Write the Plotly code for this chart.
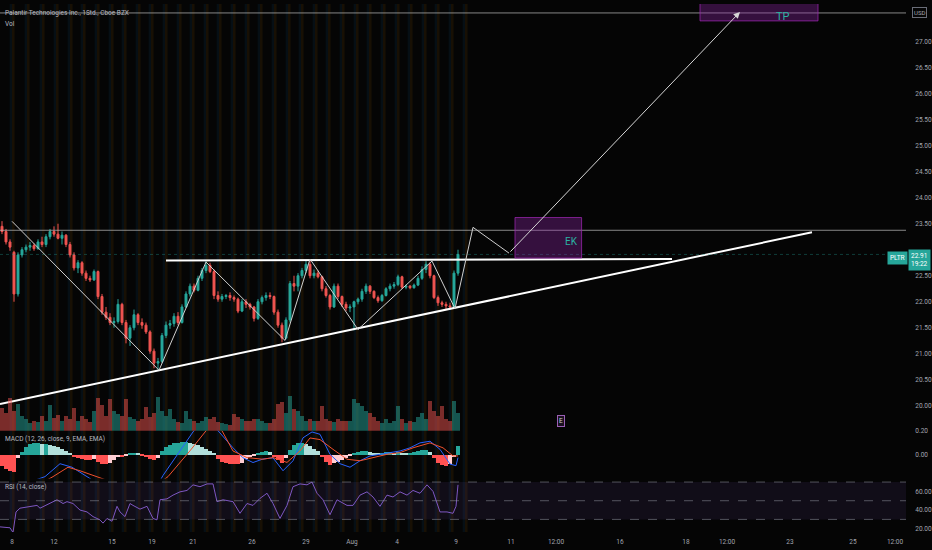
import plotly.graph_objects as go

# ---------------- data ----------------
opens = [23.45, 23.35, 23.15, 22.95, 22.15, 22.90, 23.00, 23.05, 23.08, 23.02,
         23.15, 23.10, 23.25, 23.35, 23.30, 23.22, 23.28, 23.10, 22.90, 22.65,
         22.75, 22.55, 22.45, 22.42, 22.58, 22.10, 21.80, 21.70, 21.60, 21.62,
         21.95, 21.60, 21.30, 21.50, 21.75, 21.60, 21.55, 21.42, 21.05, 20.82,
         20.85, 21.35, 21.55, 21.58, 21.72, 21.60, 21.90, 22.15, 22.30, 22.22,
         22.45, 22.60, 22.70, 22.58, 22.12, 22.05, 22.10, 22.12, 22.08, 22.05,
         21.82, 22.00, 21.95, 21.90, 21.68, 22.00, 22.08, 22.12, 22.10, 21.80,
         21.55, 21.30, 21.65, 22.35, 22.30, 22.50, 22.60, 22.72, 22.50, 22.55,
         22.48, 22.25, 22.12, 21.90, 22.30, 22.10, 21.95, 21.88, 21.90, 22.00,
         22.05, 22.20, 22.30, 22.20, 22.08, 22.02, 22.12, 22.25, 22.30, 22.33,
         22.48, 22.28, 22.30, 22.27, 22.32, 22.45, 22.62, 22.72, 22.50, 22.08,
         21.98, 21.95, 21.92, 21.90, 22.55]
highs = [23.55, 23.40, 23.20, 22.98, 22.95, 23.05, 23.10, 23.15, 23.12, 23.20,
         23.25, 23.30, 23.40, 23.45, 23.50, 23.35, 23.30, 23.15, 22.95, 22.80,
         22.78, 22.60, 22.50, 22.62, 22.60, 22.15, 21.90, 21.78, 21.70, 22.05,
         21.98, 21.65, 21.55, 21.85, 21.78, 21.68, 21.60, 21.45, 21.10, 20.92,
         21.40, 21.62, 21.65, 21.78, 21.80, 21.95, 22.20, 22.35, 22.35, 22.50,
         22.65, 22.78, 22.75, 22.62, 22.20, 22.15, 22.15, 22.18, 22.12, 22.08,
         22.05, 22.05, 21.98, 21.92, 22.05, 22.12, 22.18, 22.18, 22.12, 21.85,
         21.60, 21.70, 22.40, 22.50, 22.55, 22.65, 22.80, 22.80, 22.62, 22.60,
         22.50, 22.30, 22.15, 22.35, 22.35, 22.12, 22.00, 21.95, 22.02, 22.08,
         22.25, 22.35, 22.32, 22.22, 22.12, 22.15, 22.28, 22.35, 22.38, 22.52,
         22.50, 22.33, 22.32, 22.35, 22.50, 22.68, 22.78, 22.76, 22.52, 22.12,
         22.02, 22.00, 21.98, 22.60, 23.00]
lows = [23.30, 23.10, 22.98, 22.00, 22.10, 22.85, 22.95, 22.98, 22.98, 23.00,
        23.05, 23.05, 23.20, 23.25, 23.20, 23.10, 23.05, 22.85, 22.60, 22.55,
        22.50, 22.40, 22.38, 22.40, 22.05, 21.75, 21.65, 21.55, 21.50, 21.58,
        21.55, 21.20, 21.15, 21.45, 21.55, 21.48, 21.38, 21.00, 20.72, 20.70,
        20.82, 21.30, 21.48, 21.52, 21.55, 21.58, 21.88, 22.10, 22.18, 22.20,
        22.40, 22.55, 22.55, 22.05, 22.00, 22.00, 22.05, 22.02, 22.00, 21.78,
        21.80, 21.88, 21.85, 21.62, 21.65, 21.95, 22.02, 22.05, 21.75, 21.50,
        21.22, 21.28, 21.60, 22.20, 22.20, 22.45, 22.55, 22.45, 22.45, 22.45,
        22.20, 22.08, 21.85, 21.88, 22.05, 21.90, 21.82, 21.80, 21.45, 21.95,
        22.00, 22.15, 22.15, 22.05, 21.98, 22.00, 22.10, 22.20, 22.25, 22.30,
        22.25, 22.24, 22.24, 22.25, 22.30, 22.42, 22.55, 22.45, 22.05, 21.92,
        21.90, 21.86, 21.85, 21.88, 22.50]
closes = [23.35, 23.15, 23.05, 22.15, 22.90, 23.00, 23.05, 23.08, 23.02, 23.15,
          23.10, 23.25, 23.35, 23.30, 23.22, 23.28, 23.10, 22.90, 22.65, 22.75,
          22.55, 22.45, 22.42, 22.58, 22.10, 21.80, 21.70, 21.60, 21.62, 21.95,
          21.60, 21.30, 21.50, 21.75, 21.60, 21.55, 21.42, 21.05, 20.82, 20.85,
          21.35, 21.55, 21.58, 21.72, 21.60, 21.90, 22.15, 22.30, 22.22, 22.45,
          22.60, 22.70, 22.58, 22.12, 22.05, 22.10, 22.12, 22.08, 22.05, 21.82,
          22.00, 21.95, 21.90, 21.68, 22.00, 22.08, 22.12, 22.10, 21.80, 21.55,
          21.30, 21.65, 22.35, 22.30, 22.50, 22.60, 22.72, 22.50, 22.55, 22.48,
          22.25, 22.12, 21.90, 22.30, 22.10, 21.95, 21.88, 21.90, 22.00, 22.05,
          22.20, 22.30, 22.20, 22.08, 22.02, 22.12, 22.25, 22.30, 22.33, 22.48,
          22.28, 22.30, 22.27, 22.32, 22.45, 22.62, 22.72, 22.50, 22.08, 21.98,
          21.95, 21.92, 21.90, 22.55, 22.91]
volumes_m = [2.3, 1.8, 3.3, 2.0, 2.7, 1.5, 1.2, 0.8, 1.0, 0.9,
             1.5, 1.0, 2.6, 1.3, 1.6, 1.0, 1.5, 1.2, 2.3, 1.0,
             1.5, 1.2, 0.9, 2.0, 3.3, 2.6, 1.5, 3.2, 2.0, 1.7,
             1.5, 3.2, 1.4, 1.2, 1.0, 1.2, 2.4, 1.4, 1.8, 3.4,
             2.0, 1.5, 2.2, 1.2, 0.9, 0.8, 2.0, 1.2, 1.0, 0.8,
             1.0, 1.4, 1.2, 1.4, 0.9, 0.8, 0.7, 0.6, 1.7, 1.4,
             1.2, 1.0, 1.0, 1.2, 1.2, 1.0, 0.8, 0.8, 1.2, 2.7,
             2.9, 1.8, 3.5, 2.2, 2.0, 1.5, 1.0, 1.2, 1.0, 1.0,
             2.5, 1.2, 1.0, 0.9, 1.2, 1.0, 1.0, 1.0, 3.2, 2.8,
             2.5, 2.0, 1.8, 1.4, 1.0, 0.8, 1.2, 0.8, 1.0, 2.5,
             1.2, 0.8, 1.0, 0.9, 1.4, 1.8, 1.2, 3.0, 2.0, 1.5,
             2.5, 1.2, 1.0, 3.0, 1.8]
macd_hist = [-0.10, -0.12, -0.14, -0.15, -0.03, 0.02, 0.06, 0.09, 0.10, 0.10,
             0.09, 0.09, 0.08, 0.07, 0.06, 0.05, 0.03, 0.01, -0.02, -0.03,
             -0.04, -0.05, -0.05, -0.04, -0.06, -0.08, -0.08, -0.07, -0.05, -0.02,
             -0.02, -0.01, 0.005, 0.01, 0.005, -0.01, -0.02, -0.04, -0.05, -0.03,
             0.03, 0.06, 0.08, 0.10, 0.10, 0.11, 0.11, 0.10, 0.09, 0.08,
             0.06, 0.05, 0.03, 0.01, -0.04, -0.06, -0.07, -0.08, -0.08, -0.08,
             -0.07, -0.04, -0.02, -0.01, 0.01, 0.02, 0.03, 0.02, -0.02, -0.05,
             -0.07, -0.03, 0.04, 0.08, 0.10, 0.10, 0.09, 0.07, 0.05, 0.03,
             -0.02, -0.06, -0.09, -0.07, -0.06, -0.05, -0.03, -0.01, 0.01, 0.02,
             0.03, 0.03, 0.02, 0.01, 0.005, 0.01, 0.02, 0.02, 0.01, 0.02,
             0.01, 0.005, 0.01, 0.02, 0.03, 0.04, 0.04, 0.02, -0.03, -0.07,
             -0.09, -0.10, -0.08, -0.02, 0.07]
macd_x = [-0.5, 4.5, 8.25, 10.75, 14.5, 17.5, 21.25, 24.5, 29.5, 34.5, 38.25, 40.25,
          44, 47.75, 49.5, 52, 53.75, 57.75, 60.25, 62.75, 65.25, 67.75, 70.25, 72.75,
          75.25, 77.5, 79.5, 82, 84.5, 87, 89.5, 92, 94.5, 97, 99.5, 102, 104.5, 107,
          109.5, 112, 113.5, 114]
macd_line = [-0.30, -0.28, -0.22, -0.19, -0.08, -0.11, -0.19, -0.26, -0.32, -0.30, -0.30, -0.18,
             0.0, 0.19, 0.26, 0.28, 0.21, 0.055, -0.03, -0.07, -0.04, -0.03, -0.14, -0.055,
             0.14, 0.19, 0.17, 0.0, -0.08, -0.11, -0.055, -0.014, 0.0, 0.014, 0.028, 0.055, 0.097, 0.111,
             0.042, -0.083, -0.097, -0.028]
signal_x = [-0.5, 7, 12.75, 16.5, 19.5, 23.75, 29.5, 37, 41.5, 47, 51.25, 53.25, 55, 57.75,
            61.25, 65.25, 67.75, 71.25, 74.5, 77, 79.5, 82.75, 86.25, 89.5, 92.75, 96.25,
            99.5, 102.75, 107, 110.25, 112.75, 114]
signal_line = [-0.33, -0.30, -0.19, -0.11, -0.14, -0.19, -0.26, -0.30, -0.19, 0.03, 0.21, 0.25, 0.20, 0.028,
               -0.028, -0.042, -0.028, -0.069, 0.028, 0.139, 0.125, 0.042, -0.042, -0.055, -0.028, 0.0,
               0.014, 0.055, 0.097, 0.055, -0.014, -0.014]
rsi_x = [-0.5, 2, 2.75, 3.5, 4.5, 7, 8.75, 9.5, 12, 13.75, 15.25, 16.25, 17.75, 19.5, 21.25,
         22.75, 24.5, 25.25, 26.25, 27.5, 28.75, 29.5, 30.75, 32, 32.75, 34.5, 36.25, 37.75,
         38.75, 39.5, 41.25, 42.75, 44.5, 46.25, 47.75, 49.5, 51.25, 52.75, 53.75, 55.25,
         57.75, 59.5, 61.25, 62.75, 64.5, 66.25, 67.75, 69.5, 71.25, 72.75, 74.5, 76.25,
         77.5, 78.75, 80.25, 82, 83.75, 86.25, 87.75, 89.5, 91.25, 92.75, 94.5, 96.25,
         97.75, 99.5, 101.25, 102.75, 104.5, 106.25, 107.75, 109.5, 111.25, 112.75, 113.5, 114]
rsi_vals = [22, 21, 16, 38, 42, 44, 45, 42, 47, 51, 47, 49, 47, 40, 38,
            33, 29.5, 26, 31, 28, 44, 38, 33, 47, 45, 41, 44, 31,
            29.5, 51, 52, 56, 59.5, 61, 67, 65, 68, 68, 49, 51,
            49, 36.5, 47, 45, 52.5, 58, 47, 31, 45, 65, 68, 67,
            70, 58, 51, 35, 51, 45, 45, 56, 59.5, 54, 44, 56,
            54, 59.5, 56, 61, 58, 67, 60, 38, 38, 36.5, 44, 67]

# 23.00 is hidden behind the last-price label in the reference
price_ticks = [20.0, 20.5, 21.0, 21.5, 22.0, 22.5, 23.5, 24.0, 24.5, 25.0, 25.5, 26.0, 26.5, 27.0]
x_tick_pos = [2.5, 13, 27.5, 37.5, 47.75, 62.5, 76, 87.5, 98.75, 113.5, 127.25, 138.5, 154.5, 171, 181.25, 197, 212.75, 223.25]
x_tick_text = ["8", "12", "15", "19", "21", "26", "29", "Aug", "4", "9", "11", "12:00", "16", "18", "12:00", "23", "25", "12:00"]

# extended-session stripes (bar-index centres)
session_centres = [2.5, 6.25, 10, 13.5, 17, 20.25, 23.75, 27.25, 30.5, 34, 37.25, 40.75, 44.25, 47.5,
                   51, 54.25, 57.75, 61.25, 64.5, 68, 71.5, 74.75, 78.25, 81.5, 85, 88.5, 91.75,
                   95.25, 98.75, 102, 105.5, 108.75, 112.25, 115.75]

# drawings (bar index, price)
zigzag_idx = [2.5, 39.25, 51, 70.75, 77, 89, 107.5, 113.25, 117.75, 126.75]
zigzag_price = [23.546, 20.683, 22.763, 21.256, 22.821, 21.466, 22.782, 21.866, 23.431, 22.935]
arrow_end = (184.5, 27.573)
resist_idx = [41, 167.5]
resist_price = [22.792, 22.821]
support_idx = [-0.5, 202.5]
support_price = [20.034, 23.336]
hlines = [27.553, 23.374]
last_price = 22.91
tp_box = (174.5, 204.0, 27.40, 27.80)
ek_box = (128.25, 144.9, 22.84, 23.62)

# ---------------- styling ----------------
BG = "#050505"
TXT = "#a3a6af"
UP = "#26a69a"
DN = "#ef5350"
FONT = "Roboto, sans-serif"
PW, PH = 906, 532
def pxx(x):
    return x / PW
def pxy(y):
    return (PH - y) / PH

n = len(closes)
idx = list(range(n))

fig = go.Figure()

vol_colors = ["rgba(38,166,154,0.5)" if c >= o else "rgba(239,83,80,0.5)" for o, c in zip(opens, closes)]
fig.add_trace(go.Bar(x=idx, y=volumes_m, marker=dict(color=vol_colors, line=dict(width=0)),
                     width=0.8, xaxis="x", yaxis="y2", hoverinfo="skip"))

fig.add_trace(go.Candlestick(x=idx, open=opens, high=highs, low=lows, close=closes,
                             increasing=dict(line=dict(color=UP, width=1), fillcolor=UP),
                             decreasing=dict(line=dict(color=DN, width=1), fillcolor=DN),
                             whiskerwidth=0, xaxis="x", yaxis="y", hoverinfo="skip"))

# drawings on the price pane
fig.add_trace(go.Scatter(x=support_idx, y=support_price, mode="lines",
                         line=dict(color="#ffffff", width=2), xaxis="x", yaxis="y", hoverinfo="skip"))
fig.add_trace(go.Scatter(x=resist_idx, y=resist_price, mode="lines",
                         line=dict(color="#ffffff", width=2), xaxis="x", yaxis="y", hoverinfo="skip"))
fig.add_trace(go.Scatter(x=zigzag_idx, y=zigzag_price, mode="lines",
                         line=dict(color="#d0d0d0", width=1), xaxis="x", yaxis="y", hoverinfo="skip"))

# MACD
hist_colors = []
for i, v in enumerate(macd_hist):
    prev = macd_hist[i - 1] if i > 0 else v
    if v >= 0:
        hist_colors.append("#26a69a" if v >= prev else "#b2dfdb")
    else:
        hist_colors.append("#ffcdd2" if v > prev else "#ff5252")
fig.add_trace(go.Bar(x=idx, y=macd_hist, marker=dict(color=hist_colors, line=dict(width=0)),
                     width=0.8, xaxis="x", yaxis="y3", hoverinfo="skip"))
fig.add_trace(go.Scatter(x=macd_x, y=macd_line, mode="lines", line=dict(color="#2962ff", width=1),
                         xaxis="x", yaxis="y3", hoverinfo="skip"))
fig.add_trace(go.Scatter(x=signal_x, y=signal_line, mode="lines", line=dict(color="#f0502d", width=1),
                         xaxis="x", yaxis="y3", hoverinfo="skip"))

# RSI
fig.add_trace(go.Scatter(x=rsi_x, y=rsi_vals, mode="lines", line=dict(color="#7e57c2", width=1),
                         xaxis="x", yaxis="y4", hoverinfo="skip"))

shapes = []
for c in session_centres:
    shapes.append(dict(type="rect", xref="x", yref="paper", x0=c - 0.6, x1=c, y0=0, y1=1,
                       fillcolor="rgba(33,150,243,0.07)", line=dict(width=0), layer="below"))
    shapes.append(dict(type="rect", xref="x", yref="paper", x0=c, x1=c + 0.65, y0=0, y1=1,
                       fillcolor="rgba(255,152,0,0.08)", line=dict(width=0), layer="below"))
shapes.append(dict(type="rect", xref="paper", yref="y4", x0=0, x1=1, y0=30, y1=70,
                   fillcolor="rgba(126,87,194,0.10)", line=dict(width=0), layer="below"))
for lvl in (70, 50, 30):
    shapes.append(dict(type="line", xref="paper", yref="y4", x0=0, x1=1, y0=lvl, y1=lvl,
                       line=dict(color="rgba(140,143,154,0.55)", width=1, dash="dash")))
for h in hlines:
    shapes.append(dict(type="line", xref="paper", yref="y", x0=0, x1=1, y0=h, y1=h,
                       line=dict(color="rgba(190,190,190,0.7)", width=1)))
shapes.append(dict(type="line", xref="paper", yref="y", x0=0, x1=1, y0=last_price, y1=last_price,
                   line=dict(color="rgba(38,166,154,0.35)", width=1, dash="dot")))
for (x0, x1, y0, y1) in (tp_box, ek_box):
    shapes.append(dict(type="rect", xref="x", yref="y", x0=x0, x1=x1, y0=y0, y1=y1,
                       fillcolor="rgba(142,36,170,0.35)", line=dict(color="rgba(156,39,176,0.75)", width=1)))

annotations = [
    dict(xref="paper", yref="paper", x=pxx(3), y=pxy(9), xanchor="left", yanchor="middle",
         text="Palantir Technologies Inc., 1Std., Cboe BZX", showarrow=False,
         font=dict(family=FONT, size=6.5, color="#b8bac0")),
    dict(xref="paper", yref="paper", x=pxx(3), y=pxy(20), xanchor="left", yanchor="middle",
         text="Vol", showarrow=False, font=dict(family=FONT, size=6.5, color="#b8bac0")),
    dict(xref="paper", yref="paper", x=pxx(3), y=pxy(438), xanchor="left", yanchor="middle",
         text="MACD (12, 26, close, 9, EMA, EMA)", showarrow=False, font=dict(family=FONT, size=6.5, color="#b8bac0")),
    dict(xref="paper", yref="paper", x=pxx(3), y=pxy(487), xanchor="left", yanchor="middle",
         text="RSI (14, close)", showarrow=False, font=dict(family=FONT, size=6.5, color="#b8bac0")),
    dict(xref="paper", yref="paper", x=pxx(919), y=pxy(9), xanchor="center", yanchor="middle",
         text="USD", showarrow=False, bordercolor="#6a6d78", borderwidth=1, borderpad=1,
         font=dict(family=FONT, size=6, color=TXT)),
    dict(xref="paper", yref="paper", x=pxx(897), y=pxy(255.5), xanchor="center", yanchor="middle",
         text="PLTR", showarrow=False, bgcolor=UP, borderpad=2,
         font=dict(family=FONT, size=6.5, color="#ffffff")),
    dict(xref="paper", yref="paper", x=pxx(919), y=pxy(258), xanchor="center", yanchor="middle",
         text=f"{last_price:.2f}<br>19:22", showarrow=False, bgcolor=UP, borderpad=2,
         font=dict(family=FONT, size=6.5, color="#ffffff")),
    dict(xref="x", yref="y", x=195.2, y=27.48, xanchor="center", yanchor="middle", text="TP",
         showarrow=False, font=dict(family=FONT, size=11, color="#2bb3a3")),
    dict(xref="x", yref="y", x=144.5, y=23.16, xanchor="right", yanchor="middle", text="EK",
         showarrow=False, font=dict(family=FONT, size=10, color="#2bb3a3")),
    dict(xref="x", yref="y", x=arrow_end[0], y=arrow_end[1], ax=zigzag_idx[-1], ay=zigzag_price[-1],
         axref="x", ayref="y", text="", showarrow=True, arrowhead=2, arrowsize=1.3, arrowwidth=1,
         arrowcolor="#d6d6d6"),
    dict(xref="paper", yref="paper", x=pxx(561), y=pxy(420), xanchor="center", yanchor="middle",
         text="E", showarrow=False, bordercolor="#9b5fb5", borderwidth=1, borderpad=1, bgcolor="#1a1020",
         font=dict(family=FONT, size=6.5, color="#d0d0d0")),
]

axis_font = dict(family=FONT, size=6.5, color=TXT)
fig.update_layout(
    width=932, height=550, margin=dict(l=0, r=26, t=0, b=18),
    paper_bgcolor=BG, plot_bgcolor=BG, showlegend=False,
    font=dict(family=FONT, size=6.5, color=TXT),
    bargap=0,
    xaxis=dict(domain=[0, 1], range=[-0.5, 226], anchor="y4", showgrid=False, zeroline=False,
               showline=False, tickmode="array", tickvals=x_tick_pos, ticktext=x_tick_text,
               ticks="outside", ticklen=3, tickcolor=BG, tickfont=axis_font,
               rangeslider=dict(visible=False), fixedrange=True),
    yaxis=dict(domain=[102 / 532, 1], range=[19.519, 27.725], side="right", anchor="x",
               showgrid=False, zeroline=False, showline=False, tickmode="array",
               tickvals=price_ticks, ticktext=[f"{v:.2f}" for v in price_ticks],
               ticks="outside", ticklen=7, tickcolor=BG, tickfont=axis_font),
    yaxis2=dict(overlaying="y", range=[0, 43], visible=False, anchor="x", side="right"),
    yaxis3=dict(domain=[54 / 532, 102 / 532], range=[-0.205, 0.2], side="right", anchor="x",
                showgrid=False, zeroline=False, showline=False, tickmode="array",
                tickvals=[0.0, 0.2], ticktext=["0.00", "0.20"],
                ticks="outside", ticklen=7, tickcolor=BG, tickfont=axis_font),
    yaxis4=dict(domain=[0, 54 / 532], range=[16.5, 73.9], side="right", anchor="x",
                showgrid=False, zeroline=False, showline=False, tickmode="array",
                tickvals=[20, 40, 60], ticktext=["20.00", "40.00", "60.00"],
                ticks="outside", ticklen=7, tickcolor=BG, tickfont=axis_font),
    shapes=shapes, annotations=annotations,
)

fig.write_html("out.html")
